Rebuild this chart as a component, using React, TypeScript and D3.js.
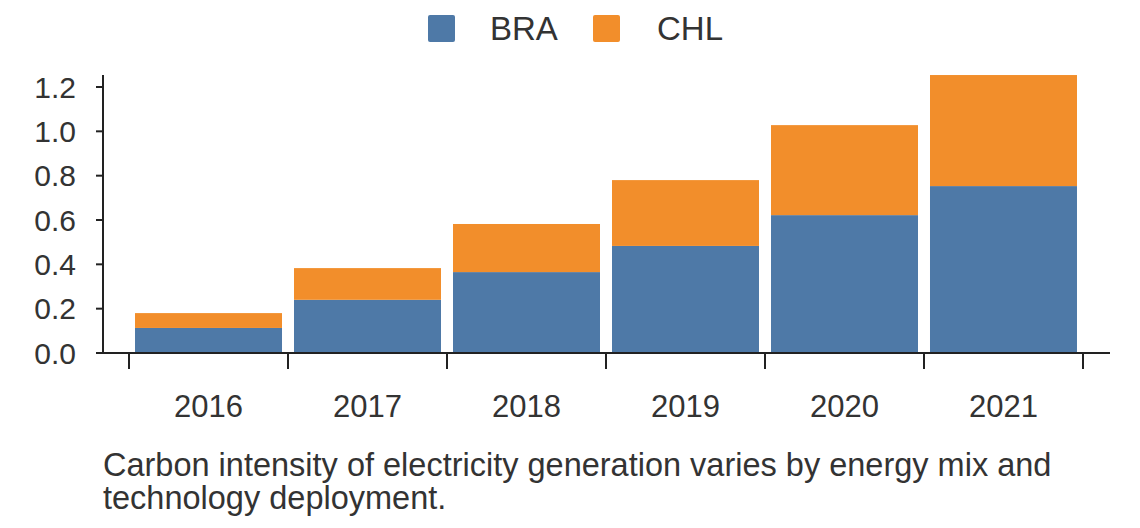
import React from "react";
import * as d3 from "d3";

const years = ["2016", "2017", "2018", "2019", "2020", "2021"];
const bra = [0.113, 0.24, 0.365, 0.483, 0.622, 0.753];
const chl = [0.067, 0.143, 0.217, 0.297, 0.406, 0.501];
const yTicks = [0, 0.2, 0.4, 0.6, 0.8, 1.0, 1.2];
const seriesNames = ["BRA", "CHL"];
const colors = ["#4e79a7", "#f28e2b"];

export default function App() {
  const x = d3.scaleBand().domain(years).range([129, 1083]).paddingInner(0.0755).paddingOuter(0.0378);
  const y = d3.scaleLinear().domain([0, 1.2]).range([353, 87]);
  const stack = d3.stack<any>().keys(["BRA", "CHL"])(years.map((yr, i) => ({ yr, BRA: bra[i], CHL: chl[i] })));
  const step = (1083 - 129) / years.length;
  const font = "Liberation Sans, Arial, sans-serif";
  const txt = "#333";
  return (
    <svg width={1140} height={528} style={{ position: "absolute", left: 0, top: 0, background: "#fff" }} fontFamily={font}>
      {stack.map((s, si) => s.map((d, i) => (
        <rect key={si + "-" + i} x={x(years[i])} width={x.bandwidth()} y={y(d[1])} height={y(d[0]) - y(d[1])} fill={colors[si]} />
      )))}
      <line x1={103} x2={103} y1={75} y2={353} stroke="#222" strokeWidth={2} />
      {yTicks.map(t => (
        <g key={t}>
          <line x1={96} x2={103} y1={y(t)} y2={y(t)} stroke="#222" strokeWidth={2} />
          <text x={76} y={y(t)} dy="0.35em" textAnchor="end" fontSize={30} fill={txt}>{t.toFixed(1)}</text>
        </g>
      ))}
      <line x1={103} x2={1110} y1={353} y2={353} stroke="#222" strokeWidth={2} />
      {d3.range(years.length + 1).map(i => (
        <line key={i} x1={129 + i * step} x2={129 + i * step} y1={353} y2={369} stroke="#222" strokeWidth={2} />
      ))}
      {years.map(yr => (
        <text key={yr} x={(x(yr) as number) + x.bandwidth() / 2} y={417} textAnchor="middle" fontSize={31} fill={txt}>{yr}</text>
      ))}
      {seriesNames.map((n, i) => (
        <g key={n}>
          <rect x={428 + i * 165} y={15} width={27} height={27} rx={2} fill={colors[i]} />
          <text x={490 + i * 167} y={40} fontSize={33} fill={txt}>{n}</text>
        </g>
      ))}
      <text x={103} y={476} fontSize={32.5} fill={txt}>Carbon intensity of electricity generation varies by energy mix and</text>
      <text x={103} y={509} fontSize={32.5} fill={txt}>technology deployment.</text>
    </svg>
  );
}
